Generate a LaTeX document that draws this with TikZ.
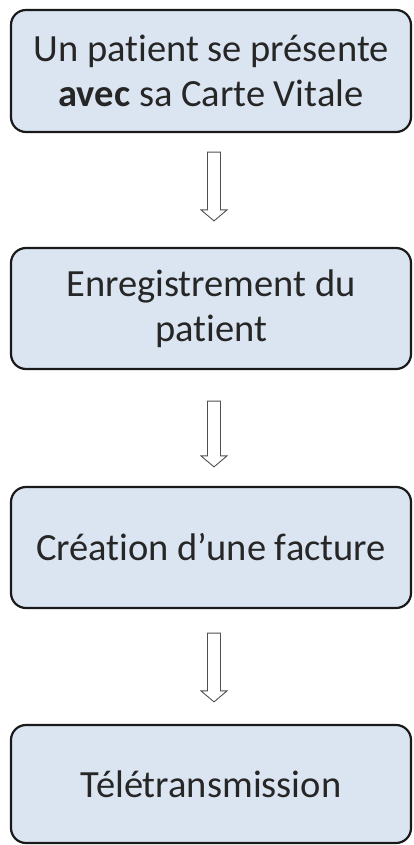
\documentclass[tikz,border=0pt]{standalone}
\usepackage{fontspec}
\setmainfont{Carlito}[RawFeature=-liga]
\usetikzlibrary{calc}
\definecolor{boxfill}{HTML}{DBE5F1}
\definecolor{boxline}{HTML}{1A1A1A}
\definecolor{txt}{HTML}{262626}
\definecolor{arrline}{HTML}{505050}
\tikzset{
  stepbox/.style={draw=boxline, line width=2.2pt, fill=boxfill, rounded corners=15pt,
    minimum width=400pt, inner sep=0pt, align=center, text=txt,
    font=\fontsize{38.5}{45}\selectfont},
  arrowline/.style={draw=arrline, line width=0.9pt, fill=white, line join=miter}
}
\newcommand\flowarrow[2]{%
  \draw[arrowline] ($(#1)+(-6.5,0)$) -- ($(#1)+(6.5,0)$) -- ($(#2)+(6.5,11)$)
    -- ($(#2)+(13,11)$) -- (#2) -- ($(#2)+(-13,11)$) -- ($(#2)+(-6.5,11)$) -- cycle;}
\begin{document}
\begin{tikzpicture}[x=1pt,y=1pt]
\useasboundingbox (0,-845) rectangle (414,0);
\node[stepbox, minimum height=122pt] (b1) at (211,-71) {Un patient se présente\\\textbf{avec} sa Carte Vitale};
\node[stepbox, minimum height=121pt] (b2) at (211,-308.5) {Enregistrement du\\patient};
\node[stepbox, minimum height=121pt] (b3) at (211,-547.5) {Création d’une facture};
\node[stepbox, minimum height=118pt] (b4) at (211,-784) {Télétransmission};
\coordinate (a1s) at ($(b1.south)+(3,-19)$);
\coordinate (a1e) at ($(b2.north)+(3,26)$);
\coordinate (a2s) at ($(b2.south)+(3,-31)$);
\coordinate (a2e) at ($(b3.north)+(3,19)$);
\coordinate (a3s) at ($(b3.south)+(3,-24)$);
\coordinate (a3e) at ($(b4.north)+(3,22)$);
\flowarrow{a1s}{a1e}
\flowarrow{a2s}{a2e}
\flowarrow{a3s}{a3e}
\end{tikzpicture}
\end{document}
